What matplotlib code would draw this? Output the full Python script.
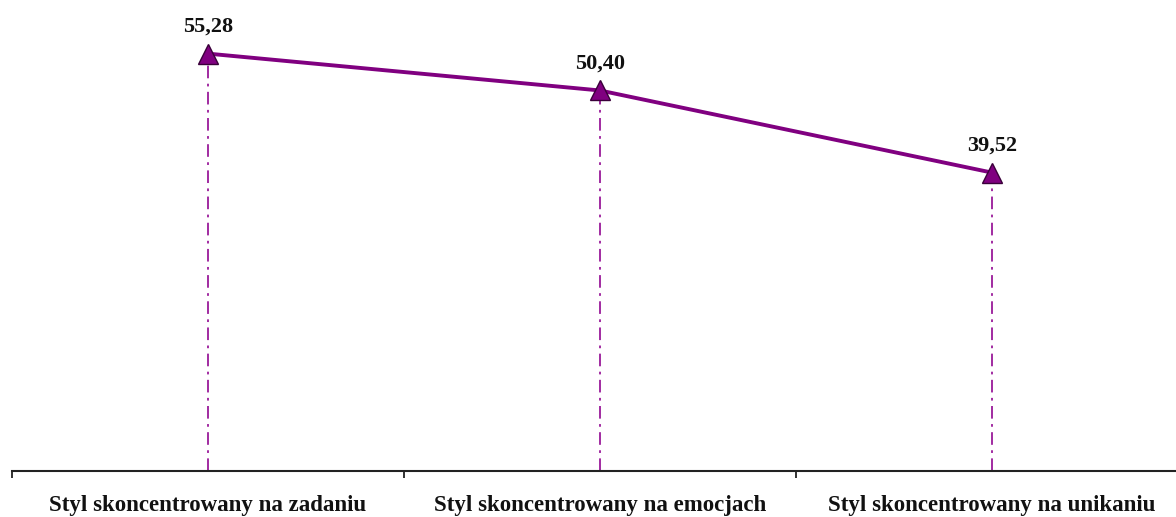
import matplotlib
matplotlib.use("Agg")
import matplotlib.pyplot as plt

# Coping-style scores
categories = ["Styl skoncentrowany na zadaniu",
              "Styl skoncentrowany na emocjach",
              "Styl skoncentrowany na unikaniu"]
scores = [55.28, 50.40, 39.52]
score_labels = ["55,28", "50,40", "39,52"]

purple = "#800080"
serif = ["Liberation Serif", "DejaVu Serif"]

fig = plt.figure(figsize=(11.76, 5.17), dpi=100)
ax = fig.add_axes([12 / 1176, 46 / 517, 1.0, 453 / 517])

x = list(range(len(categories)))

# vertical drop lines from each point to the category axis
ax.vlines(x, 0, scores, colors="#9a1a9a", linestyles=(0, (7, 3, 1.5, 3)), linewidth=1.3, zorder=1)

ax.plot(x, scores, color=purple, linewidth=2.8, marker="^", markersize=15,
        markerfacecolor=purple, markeredgecolor="#3a003a", markeredgewidth=1.0, zorder=3)

for xi, yi, lab in zip(x, scores, score_labels):
    ax.annotate(lab, (xi, yi), xytext=(0, 12), textcoords="offset points",
                ha="center", va="bottom", fontsize=16, fontweight="bold",
                family=serif, color="#111111")

ax.set_xlim(-0.5, 2.5)
ax.set_ylim(0, 60)

for side in ("left", "right", "top"):
    ax.spines[side].set_visible(False)
ax.spines["bottom"].set_linewidth(1.5)
ax.spines["bottom"].set_color("#222222")

ax.set_yticks([])
ax.set_xticks(x)
ax.set_xticklabels(categories, fontsize=16.5, fontweight="bold", family=serif, color="#111111")
ax.tick_params(axis="x", which="major", length=0, pad=17)
ax.set_xticks([-0.5, 0.5, 1.5, 2.5], minor=True)
ax.tick_params(axis="x", which="minor", length=5, width=1.3, direction="out", color="#222222")

fig.savefig("out.png", dpi=100)
